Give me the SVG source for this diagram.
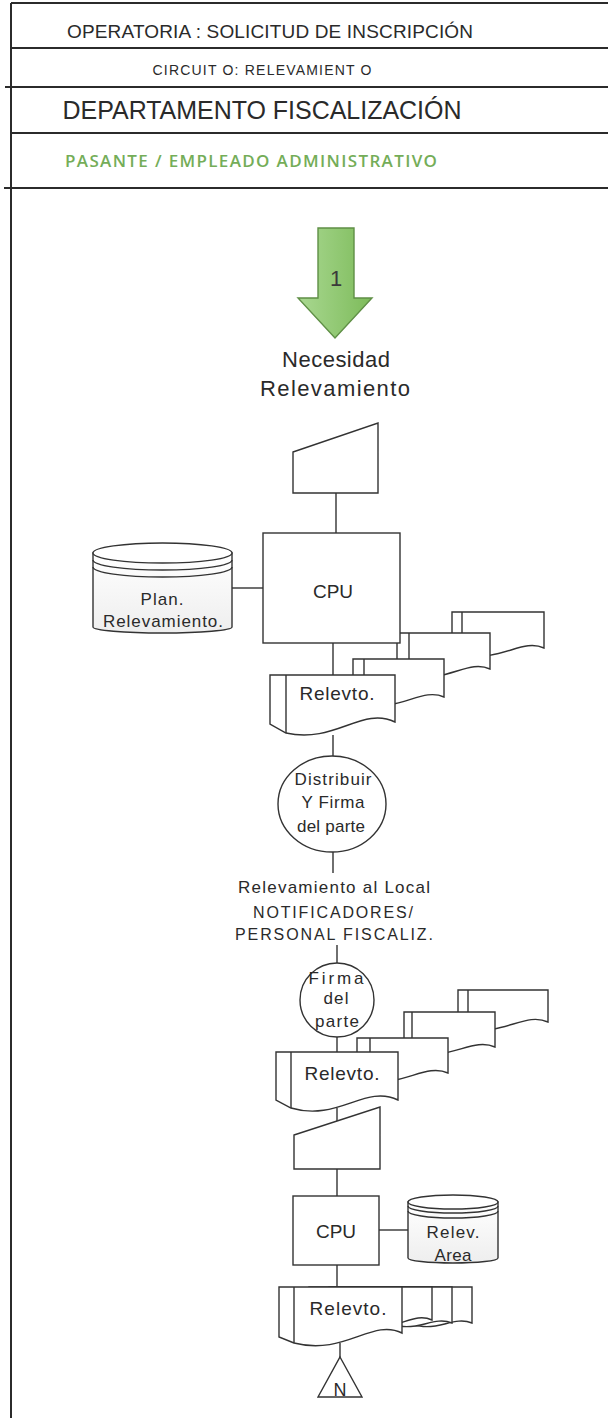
<svg xmlns="http://www.w3.org/2000/svg" width="608" height="1418" viewBox="0 0 608 1418">
<style>
.fr{stroke:#2b2b2b;stroke-width:2;fill:none}
.sh{fill:#fff;stroke:#333;stroke-width:1.4}
.ln{fill:none;stroke:#333;stroke-width:1.4}
.t{font-family:"Liberation Sans",Arial,sans-serif;fill:#2a2a2a;text-anchor:middle}
</style>
<defs>
<linearGradient id="gA" x1="0" y1="0" x2="1" y2="0"><stop offset="0" stop-color="#a9d891"/><stop offset="1" stop-color="#7dbb5a"/></linearGradient>
<linearGradient id="gD" x1="0" y1="0" x2="0" y2="1"><stop offset="0" stop-color="#ffffff"/><stop offset="1" stop-color="#eeeeee"/></linearGradient>
</defs>
<rect width="608" height="1418" fill="#fff"/>
<g id="frame">
<line class="fr" x1="11" y1="3" x2="11" y2="1418"/>
<line class="fr" x1="11" y1="3" x2="608" y2="3"/>
<line class="fr" x1="11" y1="48" x2="608" y2="48"/>
<line class="fr" x1="5" y1="87" x2="608" y2="87"/>
<line class="fr" x1="11" y1="133" x2="608" y2="133"/>
<line class="fr" x1="4" y1="188" x2="608" y2="188"/>
<text class="t" x="270" y="38" font-size="19" textLength="406">OPERATORIA : SOLICITUD DE INSCRIPCIÓN</text>
<text class="t" x="262" y="75" font-size="14" textLength="219">CIRCUIT O: RELEVAMIENT O</text>
<text class="t" x="262" y="119" font-size="25" textLength="399">DEPARTAMENTO FISCALIZACIÓN</text>
<text class="t" x="251" y="167" font-size="17" font-weight="600" style="font-family:'Open Sans',sans-serif;fill:#74ad58" textLength="372">PASANTE / EMPLEADO ADMINISTRATIVO</text>
</g>
<g id="connectors">
<line class="ln" x1="336" y1="493" x2="336" y2="533"/>
<line class="ln" x1="232" y1="588" x2="263" y2="588"/>
<line class="ln" x1="333" y1="643" x2="333" y2="675"/>
<line class="ln" x1="333" y1="735" x2="333" y2="756"/>
<line class="ln" x1="333" y1="852" x2="333" y2="873"/>
<line class="ln" x1="337" y1="945" x2="337" y2="963"/>
<line class="ln" x1="337" y1="1037" x2="337" y2="1052"/>
<line class="ln" x1="337" y1="1108" x2="337" y2="1122"/>
<line class="ln" x1="337" y1="1169" x2="337" y2="1196"/>
<line class="ln" x1="379" y1="1230" x2="408" y2="1230"/>
<line class="ln" x1="337" y1="1265" x2="337" y2="1287"/>
<line class="ln" x1="340" y1="1343" x2="340" y2="1357"/>
</g>
<g id="start">
<polygon points="318,228 354,228 354,298 372,298 335,338 298,298 318,298" fill="url(#gA)" stroke="#5f8f46" stroke-width="1.4"/>
<text class="t" x="336" y="286" font-size="22" style="fill:#3a3a3a">1</text>
<text class="t" x="336" y="367" font-size="22" textLength="108">Necesidad</text>
<text class="t" x="335" y="396" font-size="22" textLength="150">Relevamiento</text>
</g>
<g id="input1">
<polygon class="sh" points="293,452 378,423 378,493 293,493"/>
</g>
<g id="disk1">
<path class="sh" d="M93,553 V627 A69.5,6 0 0 0 232,627 V553 Z" style="fill:url(#gD)"/>
<ellipse class="sh" cx="162.5" cy="553" rx="69.5" ry="10"/>
<path class="ln" d="M93,560 A69.5,10 0 0 0 232,560 M93,567 A69.5,10 0 0 0 232,567"/>
<text class="t" x="162" y="605" font-size="17" textLength="43">Plan.</text>
<text class="t" x="163" y="627" font-size="17" textLength="120">Relevamiento.</text>
</g>
<g id="docs1">
<path class="sh" d="M452,612 H544 V648 C522,638 502,662 462,655 L452,650 Z"/>
<line class="ln" x1="462" y1="612" x2="462" y2="655"/>
<path class="sh" d="M397,633 H490 V669 C468,659 448,683 409,676 L397,671 Z"/>
<line class="ln" x1="409" y1="633" x2="409" y2="676"/>
<path class="sh" d="M353,659 H444 V697 C422,687 400,712 364,704 L353,699 Z"/>
<line class="ln" x1="364" y1="659" x2="364" y2="704"/>
<path class="sh" d="M270,675 H395 V722 C362,706 335,744 286,733 L270,724 Z"/>
<line class="ln" x1="286" y1="675" x2="286" y2="733"/>
<text class="t" x="337" y="700" font-size="19" textLength="75">Relevto.</text>
</g>
<g id="cpu1">
<rect class="sh" x="263" y="533" width="137" height="110"/>
<text class="t" x="333" y="598" font-size="19">CPU</text>
</g>
<g id="proc1">
<ellipse class="sh" cx="332" cy="804" rx="54" ry="48"/>
<text class="t" x="333" y="785" font-size="17" textLength="77">Distribuir</text>
<text class="t" x="333" y="808" font-size="17" textLength="63">Y Firma</text>
<text class="t" x="331" y="832" font-size="17" textLength="68">del parte</text>
</g>
<g id="label1">
<text class="t" x="334" y="893" font-size="17" textLength="192">Relevamiento al Local</text>
<text class="t" x="333" y="918" font-size="16" textLength="160">NOTIFICADORES/</text>
<text class="t" x="334" y="940" font-size="16" textLength="198">PERSONAL FISCALIZ.</text>
</g>
<g id="proc2">
<ellipse class="sh" cx="337" cy="1000" rx="37" ry="37"/>
<text class="t" x="336" y="984" font-size="17" textLength="55">Firma</text>
<text class="t" x="336" y="1004" font-size="17" textLength="25">del</text>
<text class="t" x="337" y="1027" font-size="17" textLength="44">parte</text>
</g>
<g id="docs2">
<path class="sh" d="M458,990 H548 V1022 C526,1012 506,1034 468,1030 L458,1025 Z"/>
<line class="ln" x1="468" y1="990" x2="468" y2="1030"/>
<path class="sh" d="M404,1012 H495 V1047 C473,1037 452,1060 412,1054 L404,1049 Z"/>
<line class="ln" x1="412" y1="1012" x2="412" y2="1054"/>
<path class="sh" d="M357,1038 H448 V1073 C426,1063 404,1086 370,1081 L357,1076 Z"/>
<line class="ln" x1="370" y1="1038" x2="370" y2="1081"/>
<path class="sh" d="M276,1052 H398 V1100 C365,1084 338,1122 291,1108 L276,1100 Z"/>
<line class="ln" x1="291" y1="1052" x2="291" y2="1108"/>
<text class="t" x="342" y="1080" font-size="19" textLength="75">Relevto.</text>
</g>
<g id="input2">
<polygon class="sh" points="294,1135 380,1107 380,1169 294,1169"/>
</g>
<g id="cpu2">
<rect class="sh" x="293" y="1196" width="86" height="69"/>
<text class="t" x="336" y="1238" font-size="19">CPU</text>
</g>
<g id="disk2">
<path class="sh" d="M408,1202 V1258 A45,5 0 0 0 498,1258 V1202 Z" style="fill:url(#gD)"/>
<ellipse class="sh" cx="453" cy="1202" rx="45" ry="7"/>
<path class="ln" d="M408,1206 A45,7 0 0 0 498,1206 M408,1211 A45,7 0 0 0 498,1211"/>
<text class="t" x="453" y="1238" font-size="17" textLength="53">Relev.</text>
<text class="t" x="453" y="1261" font-size="17" textLength="37">Area</text>
</g>
<g id="docs3">
<path class="sh" d="M349,1287 H472 V1323 C455,1316 440,1330 420,1326 L349,1320 Z"/>
<path class="sh" d="M329,1287 H452 V1323 C435,1316 420,1330 400,1326 L329,1320 Z"/>
<path class="sh" d="M309,1287 H432 V1320 C415,1312 400,1328 380,1326 L309,1320 Z"/>
<path class="sh" d="M279,1287 H402 V1333 C372,1318 345,1356 294,1343 L279,1337 Z"/>
<line class="ln" x1="294" y1="1287" x2="294" y2="1343"/>
<text class="t" x="348" y="1315" font-size="19" textLength="77">Relevto.</text>
</g>
<g id="end">
<polygon class="sh" points="340,1357 362,1397 318,1397"/>
<text class="t" x="340" y="1396" font-size="18">N</text>
</g>
</svg>
